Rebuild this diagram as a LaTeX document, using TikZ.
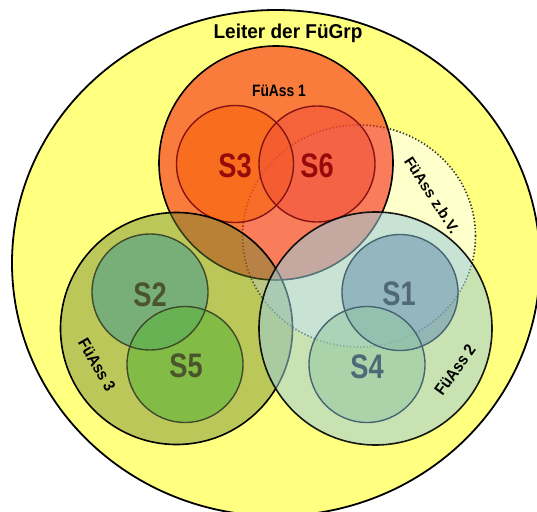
\documentclass[tikz,border=0pt]{standalone}
\usepackage{fontspec}
\setmainfont{Liberation Sans}
\usepackage{graphicx}
\definecolor{bigyellow}{RGB}{255,255,128}
\definecolor{zbvyellow}{RGB}{255,255,204}
\definecolor{fa1fill}{RGB}{246,31,11}
\definecolor{fa3fill}{RGB}{109,135,46}
\definecolor{fa2fill}{RGB}{156,206,218}
\definecolor{sthree}{RGB}{250,100,10}
\definecolor{ssix}{RGB}{242,83,55}
\definecolor{stwo}{RGB}{75,160,140}
\definecolor{sfive}{RGB}{92,180,57}
\definecolor{sone}{RGB}{113,152,179}
\definecolor{sfour}{RGB}{150,201,165}
\definecolor{redline}{RGB}{135,20,20}
\definecolor{greenline}{RGB}{62,74,42}
\definecolor{blueline}{RGB}{72,100,115}
\definecolor{redtext}{RGB}{150,10,10}
\definecolor{greentext}{RGB}{75,85,45}
\definecolor{bluetext}{RGB}{80,105,120}
\newcommand{\narrowtxt}[2]{\scalebox{#1}[1]{#2}}
\begin{document}
\begin{tikzpicture}[x=1pt,y=-1pt,
  groupline/.style={draw=black,line width=1.6pt},
  subline/.style={line width=1.4pt},
  slabel/.style={inner sep=0pt,font=\fontsize{34}{34}\selectfont\bfseries},
  glabel/.style={inner sep=0pt,font=\fontsize{16.5}{16.5}\selectfont\bfseries}]
\useasboundingbox (0,0) rectangle (537,511);
% outer group
\fill[bigyellow] (276,263) ellipse[x radius=264pt,y radius=253pt];
\draw[line width=1.8pt] (276,263) ellipse[x radius=264pt,y radius=253pt];
% FueAss z.b.V. (dotted)
\fill[zbvyellow] (359,236) ellipse[x radius=116.5pt,y radius=111pt];
\draw[black!80,line width=1.6pt,dash pattern=on 1.4pt off 2pt] (359,236) ellipse[x radius=116.5pt,y radius=111pt];
% FueAss 1
\fill[fa1fill,fill opacity=0.58] (276,163) circle[radius=117pt];
\draw[groupline] (276,163) circle[radius=117pt];
\fill[sthree,fill opacity=0.6] (235,164) circle[radius=58.5pt];
\fill[ssix,fill opacity=0.6] (317,164) circle[radius=58pt];
\draw[subline,redline] (235,164) circle[radius=58.5pt];
\draw[subline,redline] (317,164) circle[radius=58pt];
% FueAss 3
\fill[fa3fill,fill opacity=0.46] (176.5,328.5) circle[radius=116pt];
\draw[groupline] (176.5,328.5) circle[radius=116pt];
\fill[stwo,fill opacity=0.6] (150,292) circle[radius=58pt];
\fill[sfive,fill opacity=0.6] (185,364.5) circle[radius=58pt];
\draw[subline,greenline] (150,292) circle[radius=58pt];
\draw[subline,greenline] (185,364.5) circle[radius=58pt];
% FueAss 2
\fill[fa2fill,fill opacity=0.554] (375.5,328.5) circle[radius=116.5pt];
\draw[groupline,draw opacity=0.9] (375.5,328.5) circle[radius=116.5pt];
\fill[sone,fill opacity=0.6] (400,292.5) circle[radius=58pt];
\fill[sfour,fill opacity=0.6] (367,364.5) circle[radius=58pt];
\draw[subline,blueline] (400,292.5) circle[radius=58pt];
\draw[subline,blueline] (367,364.5) circle[radius=58pt];
% labels
\node[inner sep=0pt,anchor=base,font=\fontsize{20}{20}\selectfont\bfseries] (leiter) at (288,39) {\narrowtxt{0.95}{Leiter der FüGrp}};
\node[glabel,anchor=base] (fa1) at (279,96) {\narrowtxt{0.84}{FüAss 1}};
\node[glabel,rotate=-60] (fa3) at (97,365) {\narrowtxt{0.9}{FüAss 3}};
\node[glabel,rotate=54] (fa2) at (455,370) {\narrowtxt{0.9}{FüAss 2}};
\node[inner sep=0pt,font=\fontsize{15}{15}\selectfont\bfseries,rotate=-57] (fazbv) at (432,195) {FüAss z.b.V.};
\node[slabel,text=redtext] (s3) at (235,166) {\narrowtxt{0.8}{S3}};
\node[slabel,text=redtext] (s6) at (317,166) {\narrowtxt{0.8}{S6}};
\node[slabel,text=greentext] (s2) at (150,295) {\narrowtxt{0.8}{S2}};
\node[slabel,text=greentext] (s5) at (186,366) {\narrowtxt{0.8}{S5}};
\node[slabel,text=bluetext] (s1) at (399,294) {\narrowtxt{0.8}{S1}};
\node[slabel,text=bluetext] (s4) at (367,367) {\narrowtxt{0.8}{S4}};
\end{tikzpicture}
\end{document}
